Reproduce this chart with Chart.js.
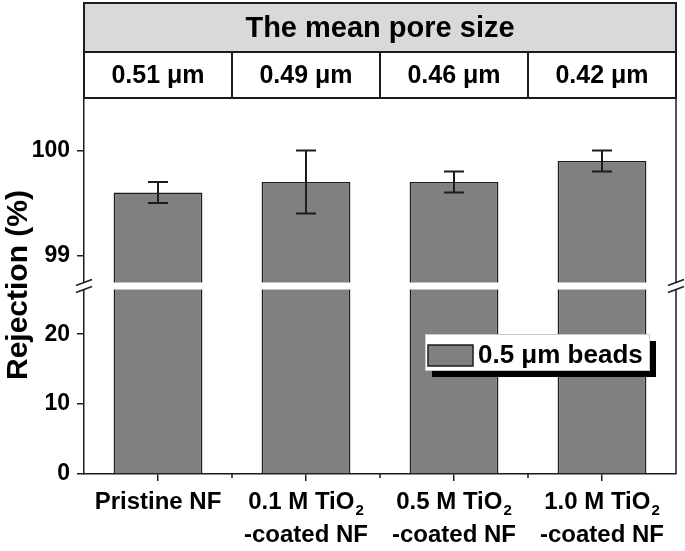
<!DOCTYPE html>
<html>
<head>
<meta charset="utf-8">
<script src="https://cdn.jsdelivr.net/npm/chart.js@4.4.1/dist/chart.umd.min.js"></script>
<style>
  html, body { margin: 0; padding: 0; background: #fff; }
  #chart { display: block; }
</style>
</head>
<body>
<canvas id="chart" width="685" height="551"></canvas>
<script>
// values
var categories = [['Pristine NF'], ['0.1 M TiO₂', '-coated NF'], ['0.5 M TiO₂', '-coated NF'], ['1.0 M TiO₂', '-coated NF']];
var poreSizes = ['0.51 μm', '0.49 μm', '0.46 μm', '0.42 μm'];
var rejection = [99.6, 99.7, 99.7, 99.9];
var rejectionErr = [0.1, 0.3, 0.1, 0.1];
var seriesName = '0.5 μm beads';
var headerTitle = 'The mean pore size';
var yTitle = 'Rejection (%)';

// broken y axis: upper and lower part
var upperRange = [98.71, 100.5];
var lowerRange = [0, 26.9];
var upperTicks = [99, 100];
var lowerTicks = [0, 10, 20];

var FONT = "'Liberation Sans', Arial, sans-serif";
var INK = '#1c1c1c';
var TEXT = '#000';
var BAR = '#808080';

function font(size) { return 'bold ' + size + 'px ' + FONT; }

// draws a label where '₂' becomes a lowered small 2
function subText(ctx, str, cx, y, size) {
    var parts = str.split('₂');
    ctx.font = font(size);
    var main = ctx.measureText(parts[0]).width;
    var rest = parts.length > 1 ? parts[1] : '';
    ctx.font = font(Math.round(size * 0.62));
    var sub = parts.length > 1 ? ctx.measureText('2').width + 1 : 0;
    ctx.font = font(size);
    var total = main + sub + ctx.measureText(rest).width;
    var x = cx - total / 2;
    ctx.textAlign = 'left';
    ctx.fillText(parts[0], x, y);
    if (parts.length > 1) {
        ctx.font = font(Math.round(size * 0.62));
        ctx.fillText('2', x + main + 1, y + 6);
        ctx.font = font(size);
        ctx.fillText(rest, x + main + sub, y);
    }
}

// frame, white break band, break marks, error bars
var brokenAxisPlugin = {
    id: 'brokenAxis',
    afterDatasetsDraw: function(chart) {
        var ctx = chart.ctx, a = chart.chartArea;
        var xs = chart.scales.x, ys = chart.scales.yTop;
        ctx.save();
        ctx.strokeStyle = INK;
        ctx.lineWidth = 1.5;

        // top and right frame
        ctx.beginPath();
        ctx.moveTo(a.left, a.top);
        ctx.lineTo(a.right, a.top);
        ctx.lineTo(a.right, a.bottom);
        ctx.stroke();

        // short ticks between categories
        ctx.beginPath();
        for (var i = 1; i < categories.length; i++) {
            var bx = (xs.getPixelForValue(i - 1) + xs.getPixelForValue(i)) / 2;
            ctx.moveTo(bx, a.bottom);
            ctx.lineTo(bx, a.bottom + 4);
        }
        ctx.stroke();

        // white band where the axis is broken
        var gy = ys.bottom;
        ctx.fillStyle = '#fff';
        ctx.fillRect(a.left - 10, gy - 3.5, a.right - a.left + 20, 7);

        [a.left, a.right].forEach(function(px) {
            [gy - 3.5, gy + 3.5].forEach(function(py) {
                ctx.beginPath();
                ctx.moveTo(px - 8, py + 3);
                ctx.lineTo(px + 8, py - 3);
                ctx.stroke();
            });
        });

        // error bars
        ctx.lineWidth = 2;
        ctx.beginPath();
        rejection.forEach(function(v, i) {
            var x = xs.getPixelForValue(i);
            var hi = ys.getPixelForValue(v + rejectionErr[i]);
            var lo = ys.getPixelForValue(v - rejectionErr[i]);
            ctx.moveTo(x, hi); ctx.lineTo(x, lo);
            ctx.moveTo(x - 10, hi); ctx.lineTo(x + 10, hi);
            ctx.moveTo(x - 10, lo); ctx.lineTo(x + 10, lo);
        });
        ctx.stroke();
        ctx.restore();
    },
    afterDraw: function(chart) {
        var ctx = chart.ctx, a = chart.chartArea;
        var xs = chart.scales.x;
        ctx.save();
        ctx.strokeStyle = INK;
        ctx.lineWidth = 2;

        // header table
        var hTop = 3, hMid = 52;
        ctx.fillStyle = '#d9d9d9';
        ctx.fillRect(a.left, hTop, a.right - a.left, hMid - hTop);
        ctx.strokeRect(a.left, hTop, a.right - a.left, a.top - hTop);
        ctx.beginPath();
        ctx.moveTo(a.left, hMid);
        ctx.lineTo(a.right, hMid);
        for (var i = 1; i < poreSizes.length; i++) {
            var bx = (xs.getPixelForValue(i - 1) + xs.getPixelForValue(i)) / 2;
            ctx.moveTo(bx, hMid);
            ctx.lineTo(bx, a.top);
        }
        ctx.stroke();

        ctx.fillStyle = TEXT;
        ctx.textAlign = 'center';
        ctx.textBaseline = 'middle';
        ctx.font = font(29);
        ctx.fillText(headerTitle, (a.left + a.right) / 2, (hTop + hMid) / 2 + 1);
        ctx.font = font(25);
        poreSizes.forEach(function(p, i) {
            ctx.fillText(p, xs.getPixelForValue(i), (hMid + a.top) / 2 + 1);
        });

        // category labels under the x axis
        ctx.textBaseline = 'alphabetic';
        categories.forEach(function(lines, i) {
            lines.forEach(function(line, j) {
                subText(ctx, line, xs.getPixelForValue(i), 509 + j * 33, 24);
            });
        });

        // y axis title
        ctx.save();
        ctx.translate(19, 285);
        ctx.rotate(-Math.PI / 2);
        ctx.textAlign = 'center';
        ctx.textBaseline = 'middle';
        ctx.font = font(30);
        ctx.fillText(yTitle, 0, 0);
        ctx.restore();

        // legend with drop shadow
        var lx = 425, ly = 334, lw = 224, lh = 36;
        ctx.fillStyle = '#000';
        ctx.fillRect(lx + 7, ly + 7, lw, lh);
        ctx.fillStyle = '#fff';
        ctx.fillRect(lx, ly, lw, lh);
        ctx.strokeStyle = '#ccc';
        ctx.lineWidth = 1;
        ctx.strokeRect(lx + 0.5, ly + 0.5, lw, lh);
        ctx.fillStyle = BAR;
        ctx.fillRect(lx + 3, ly + 11, 45, 21);
        ctx.strokeStyle = INK;
        ctx.lineWidth = 1.5;
        ctx.strokeRect(lx + 3, ly + 11, 45, 21);
        ctx.fillStyle = TEXT;
        ctx.textAlign = 'left';
        ctx.textBaseline = 'alphabetic';
        ctx.font = font(26);
        ctx.fillText(seriesName, lx + 53, ly + 29);
        ctx.restore();
    }
};

var barStyle = {
    backgroundColor: BAR,
    borderColor: INK,
    borderWidth: 1.5,
    barPercentage: 0.6,
    categoryPercentage: 1,
    grouped: false
};

function yAxis(range, ticks) {
    return {
        type: 'linear',
        position: 'left',
        stack: 'rejection',
        stackWeight: 1,
        min: range[0],
        max: range[1],
        afterBuildTicks: function(s) {
            s.ticks = ticks.map(function(v) { return { value: v }; });
        },
        afterFit: function(s) { s.width = 84; },
        grid: { drawOnChartArea: false, tickLength: 7, color: INK, lineWidth: 1.5 },
        border: { color: INK, width: 1.5 },
        ticks: { font: { family: FONT, size: 23, weight: 'bold' }, color: TEXT, padding: 7 }
    };
}

var ctx = document.getElementById('chart');
new Chart(ctx, {
    type: 'bar',
    data: {
        labels: categories,
        datasets: [
            Object.assign({ label: seriesName, data: rejection.map(function(v) { return Math.min(v, lowerRange[1]); }), yAxisID: 'yLow' }, barStyle),
            Object.assign({ label: seriesName, data: rejection, yAxisID: 'yTop', base: upperRange[0] }, barStyle)
        ]
    },
    options: {
        responsive: false,
        devicePixelRatio: 1,
        animation: false,
        layout: { padding: { top: 98, right: 9, bottom: 0, left: 0 } },
        plugins: { legend: { display: false }, tooltip: { enabled: false } },
        scales: {
            x: {
                offset: true,
                afterFit: function(s) { s.height = 77; },
                grid: { offset: false, drawOnChartArea: false, tickLength: 7, color: INK, lineWidth: 1.5 },
                border: { color: INK, width: 1.5 },
                ticks: { display: false }
            },
            yLow: yAxis(lowerRange, lowerTicks),
            yTop: yAxis(upperRange, upperTicks)
        }
    },
    plugins: [brokenAxisPlugin]
});
</script>
</body>
</html>
